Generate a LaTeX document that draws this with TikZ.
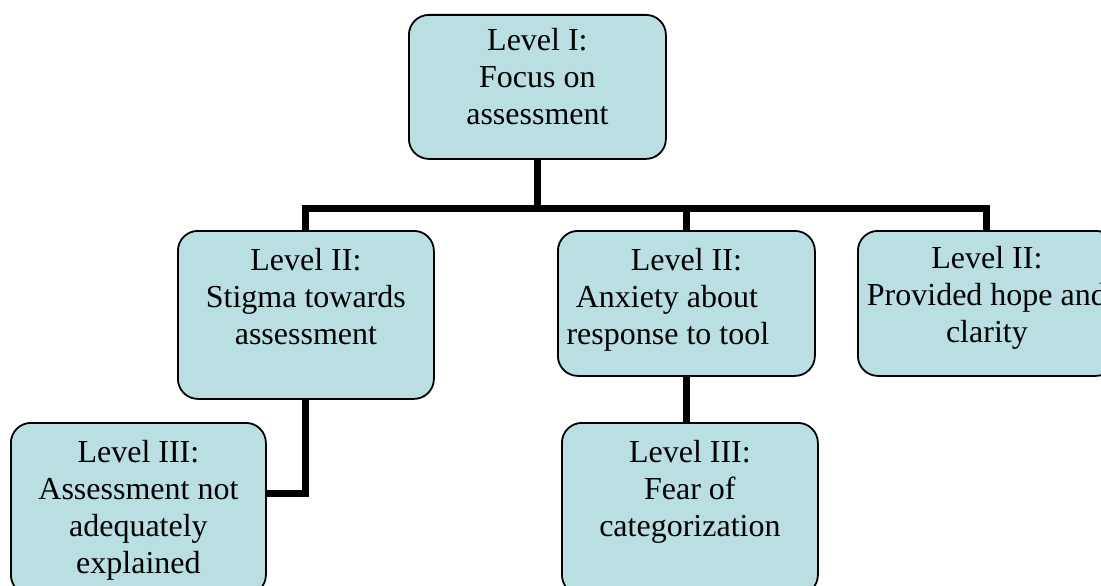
\documentclass[tikz,border=0pt]{standalone}
\usepackage{fontspec}
\usetikzlibrary{calc}
\setmainfont{Liberation Serif}
\definecolor{boxfill}{RGB}{185,223,227}
% box body: fixed-size top-aligned parbox, first baseline at #3 below the top
\newcommand{\cellbody}[4]{\parbox[c][#2pt][t]{#1pt}{\centering\rule{0pt}{#3pt}#4}}
\tikzset{
  themebox/.style={draw=black, line width=1.8pt, fill=boxfill, rounded corners=20pt,
    inner sep=0pt, anchor=north west, font=\fontsize{32}{37}\selectfont},
  link/.style={draw=black, line width=7pt, line join=miter}
}
\begin{document}
\begin{tikzpicture}[x=1pt,y=-1pt]
\useasboundingbox (0,0) rectangle (1101,586);
\clip (0,0) rectangle (1101,586);
\fill[white] (0,0) rectangle (1101,586);

% level I
\node[themebox] (top) at (408,14) {\cellbody{257}{144}{36}{Level I:\\Focus on\\assessment}};

% level II
\node[themebox] (stigma) at (177,230) {\cellbody{256}{168}{40}{Level II:\\Stigma towards\\assessment}};
\node[themebox] (anxiety) at (557,230) {\cellbody{257}{145}{40}{Level II:\\Anxiety about\kern39pt\\response to tool\kern37pt}};
\node[themebox] (hope) at (857,230) {\cellbody{258}{145}{38}{Level II:\\Provided hope and\\clarity}};

% level III
\node[themebox] (explained) at (10,422) {\cellbody{255}{172}{40}{Level III:\\Assessment not\\adequately\\explained}};
\node[themebox] (fear) at (561,422) {\cellbody{256}{172}{40}{Level III:\\Fear of\\categorization}};

% connectors
\coordinate (bar) at ($(top.south)+(0,49)$);
\draw[link] (top.south) -- (bar);
\draw[link] (stigma.north) |- (bar) -| (hope.north);
\draw[link] (anxiety.north) -- (anxiety.north |- bar);
\draw[link] (stigma.south) |- (explained.east |- 0,493);
\draw[link] (anxiety.south) -- (anxiety.south |- fear.north);
\end{tikzpicture}
\end{document}
